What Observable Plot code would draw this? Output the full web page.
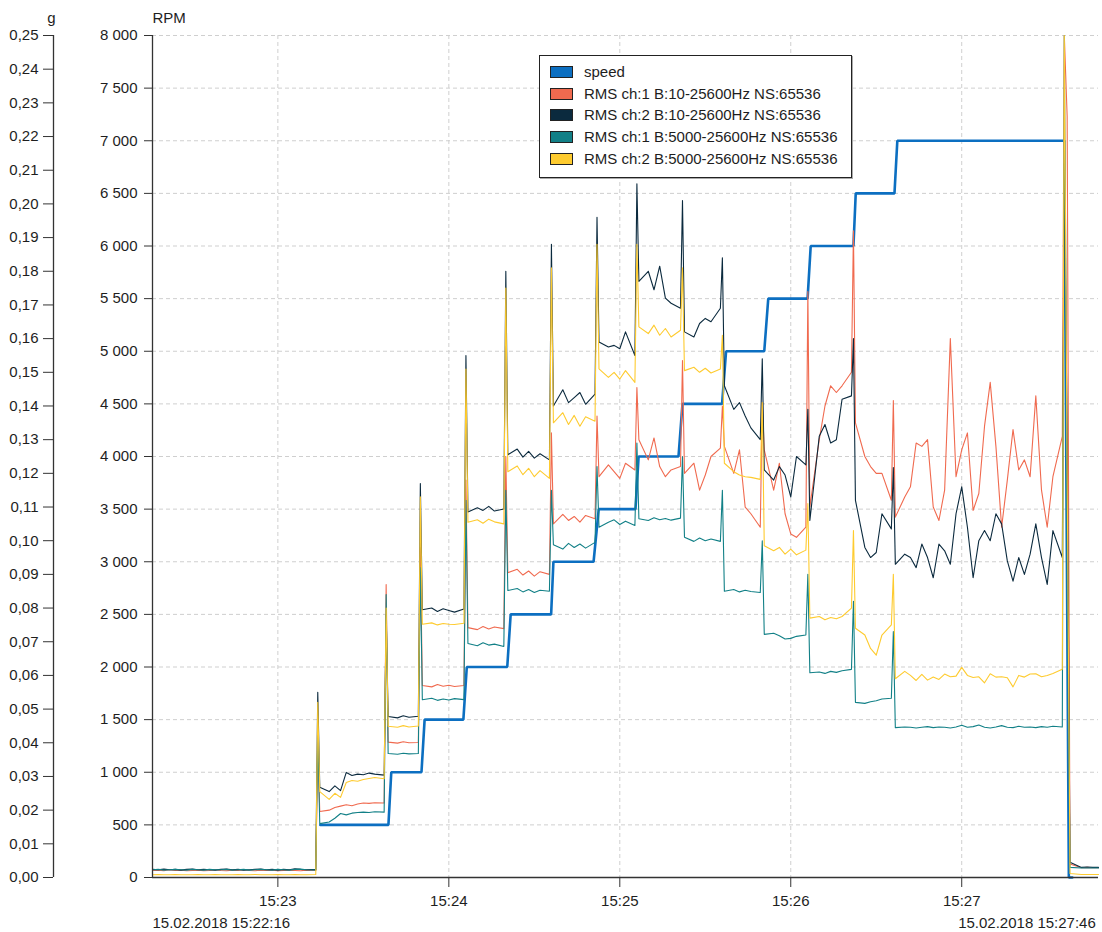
<!DOCTYPE html>
<html><head><meta charset="utf-8">
<script src="https://cdn.jsdelivr.net/npm/d3@7"></script>
<script src="https://cdn.jsdelivr.net/npm/@observablehq/plot@0.6"></script>
<style>
html,body{margin:0;padding:0;background:#fff;}
#wrap{position:relative;width:1102px;height:932px;font-family:"Liberation Sans",Arial,sans-serif;color:#1e1e1e;}
#legend{position:absolute;left:539px;top:55px;width:313px;height:123px;box-sizing:border-box;border:1px solid #222;background:#fff;box-shadow:1px 1px 0 #aaa;}
.sw{position:absolute;left:10px;width:23px;height:12px;box-sizing:border-box;border:1.5px solid #222;}
.lb{position:absolute;left:44px;white-space:nowrap;font-size:15px;line-height:15px;}
</style></head><body><div id="wrap"></div>
<script>
// ---- labels & colors ----
const seriesNames = ["speed","RMS ch:1 B:10-25600Hz NS:65536","RMS ch:2 B:10-25600Hz NS:65536","RMS ch:1 B:5000-25600Hz NS:65536","RMS ch:2 B:5000-25600Hz NS:65536"];
const seriesColors = ["#0c6fc1","#f06a4f","#0b2a3e","#128087","#fecb2f"];
const startLabel = "15.02.2018 15:22:16";
const endLabel = "15.02.2018 15:27:46";
const minuteTicks = ["15:23","15:24","15:25","15:26","15:27"];
const rpmTicks = [0,500,1000,1500,2000,2500,3000,3500,4000,4500,5000,5500,6000,6500,7000,7500,8000];
const gTicks = [0,0.01,0.02,0.03,0.04,0.05,0.06,0.07,0.08,0.09,0.10,0.11,0.12,0.13,0.14,0.15,0.16,0.17,0.18,0.19,0.20,0.21,0.22,0.23,0.24,0.25];

// ---- speed (RPM), seconds after 15:22:16 ----
const speedSec = [58.9,82.8,83.8,94.4,95.5,109.1,110.3,124.5,125.7,139.9,140.7,154.8,156.6,169.5,170.6,184.6,186.0,199.9,201.3,214.7,216.1,229.9,231.0,246.0,246.8,260.4,261.4,320.0,321.6,322.8];
const speedRpm = [500,500,1000,1000,1500,1500,2000,2000,2500,2500,3000,3000,3500,3500,4000,4000,4500,4500,5000,5000,5500,5500,6000,6000,6500,6500,7000,7000,0,0];

// ---- RMS values (g); sample times in seconds after 15:22:16 ----
const rmsSec = [
0,2,4,6,8,10,12,14,16,18,20,22,24,26,28,30,32,34,36,38,40,42,44,46,48,50,52,54,57.3,
58,
58.7,62,64,66,68,70,72,74,76,78,81.3,
82,
82.7,86,88,90,93.3,
94,
94.7,98,100,102,104,106,109.3,
110,
110.7,114,116,118,120,123.3,
124,
124.7,128,130,132,134,136,139.3,
140,
140.7,144,146,148,150,152,155.3,
156,
156.7,160,162,164,166,169.3,
170,
170.7,174,176,178,180,182,185.3,
186,
186.7,190,192,194,196,199.3,
200,
200.7,204,206,208,210,213.3,
214,
214.7,218,220,222,224,226,229.3,
230,
230.7,234,236,238,240,242,245.3,
246,
246.7,250,252,254,256,259.3,
260,
260.7,264,266,268,270,272,274,276,278,280,282,284,286,288,290,292,294,296,298,300,302,304,306,308,310,312,314,316,319.3,
320,321,322,
326,328,330,332];
const ch1Broad = [
0.0021,0.0022,0.0020,0.0023,0.0021,0.0022,0.0020,0.0021,0.0022,0.0020,0.0021,0.0023,0.0021,0.0020,0.0022,0.0021,0.0023,0.0021,0.0020,0.0022,0.0021,0.0022,0.0020,0.0021,0.0022,0.0021,0.0020,0.0022,0.0021,
0.040,
0.0196,0.0200,0.0208,0.0212,0.0216,0.0213,0.0218,0.0221,0.0220,0.0222,0.0221,
0.087,
0.0402,0.0399,0.0403,0.0400,0.0401,
0.098,
0.0570,0.0566,0.0573,0.0568,0.0571,0.0567,0.0570,
0.118,
0.0742,0.0736,0.0745,0.0738,0.0744,0.0739,
0.125,
0.0905,0.0915,0.0898,0.0910,0.0895,0.0908,0.0900,
0.132,
0.1050,0.1078,0.1060,0.1072,0.1055,0.1075,0.1065,
0.137,
0.1190,0.1225,0.1205,0.1185,0.1230,0.1210,
0.1455,
0.1300,0.1240,0.1305,0.1220,0.1190,0.1210,0.1220,
0.1535,
0.1200,0.1230,0.1150,0.1195,0.1250,0.1275,
0.140,
0.1280,0.1200,0.1270,0.1100,0.1080,0.1040,
0.141,
0.1270,0.1150,0.1230,0.1080,0.1020,0.1010,0.1040,
0.174,
0.1100,0.1300,0.1400,0.1460,0.1440,0.1460,0.1500,
0.192,
0.1350,0.1250,0.1220,0.1200,0.1200,0.1120,
0.1416,
0.107,0.113,0.116,0.129,0.128,0.130,0.110,0.106,0.115,0.160,0.119,0.127,0.132,0.109,0.114,0.134,0.147,0.128,0.104,0.118,0.133,0.121,0.124,0.119,0.143,0.115,0.104,0.119,0.131,
0.250,0.226,0.0040,
0.0029,0.0030,0.0029,0.0029];
const ch2Broad = [
0.0024,0.0023,0.0025,0.0023,0.0024,0.0022,0.0024,0.0025,0.0023,0.0024,0.0023,0.0022,0.0024,0.0025,0.0023,0.0024,0.0022,0.0023,0.0024,0.0025,0.0023,0.0024,0.0022,0.0024,0.0023,0.0026,0.0024,0.0023,0.0024,
0.055,
0.0268,0.0255,0.0272,0.0258,0.0312,0.0303,0.0307,0.0305,0.0310,0.0307,0.0304,
0.078,
0.0478,0.0474,0.0480,0.0476,0.0479,
0.117,
0.0795,0.0800,0.0790,0.0798,0.0793,0.0788,0.0797,
0.155,
0.1085,0.1098,0.1090,0.1102,0.1088,0.1094,
0.180,
0.1255,0.1272,0.1248,0.1265,0.1245,0.1258,0.1240,
0.188,
0.1400,0.1448,0.1410,0.1425,0.1440,0.1405,0.1435,
0.196,
0.1590,0.1575,0.1580,0.1570,0.1620,0.1550,
0.206,
0.1770,0.1800,0.1745,0.1815,0.1720,0.1705,0.1690,
0.201,
0.1620,0.1605,0.1645,0.1660,0.1650,0.1690,
0.184,
0.1460,0.1390,0.1410,0.1370,0.1335,0.1300,
0.154,
0.1210,0.1180,0.1220,0.1195,0.1130,0.1250,0.1225,
0.139,
0.1060,0.1310,0.1345,0.1290,0.1300,0.1420,0.1430,
0.160,
0.1120,0.0980,0.0950,0.0965,0.1080,0.1035,
0.1217,
0.093,0.096,0.095,0.092,0.099,0.095,0.089,0.099,0.097,0.093,0.108,0.116,0.104,0.089,0.100,0.103,0.100,0.108,0.105,0.094,0.088,0.095,0.090,0.096,0.105,0.095,0.087,0.103,0.095,
0.212,0.130,0.0045,
0.0030,0.0031,0.0030,0.0030];
const ch1High = [
0.0023,0.0024,0.0022,0.0023,0.0024,0.0023,0.0022,0.0024,0.0023,0.0022,0.0024,0.0023,0.0023,0.0024,0.0022,0.0023,0.0024,0.0022,0.0023,0.0024,0.0023,0.0022,0.0024,0.0023,0.0022,0.0024,0.0025,0.0023,0.0022,
0.042,
0.0160,0.0165,0.0176,0.0190,0.0186,0.0191,0.0193,0.0194,0.0193,0.0195,0.0194,
0.084,
0.0368,0.0366,0.0369,0.0367,0.0368,
0.092,
0.0528,0.0532,0.0526,0.0530,0.0527,0.0531,0.0528,
0.112,
0.0695,0.0688,0.0697,0.0690,0.0693,0.0686,
0.115,
0.0852,0.0858,0.0848,0.0855,0.0846,0.0853,0.0850,
0.115,
0.0988,0.0975,0.0992,0.0980,0.0990,0.0978,0.0995,
0.122,
0.1040,0.1055,0.1062,0.1048,0.1058,0.1045,
0.129,
0.1065,0.1060,0.1068,0.1062,0.1066,0.1061,0.1067,
0.125,
0.1010,0.0998,0.1008,0.1000,0.1005,0.0998,
0.115,
0.0850,0.0855,0.0848,0.0853,0.0849,0.0846,
0.100,
0.0722,0.0725,0.0718,0.0708,0.0710,0.0716,0.0720,
0.090,
0.0608,0.0610,0.0606,0.0612,0.0609,0.0614,0.0618,
0.082,
0.0520,0.0517,0.0522,0.0525,0.0530,0.0532,
0.073,
0.0445,0.0447,0.0446,0.0444,0.0446,0.0448,0.0445,0.0447,0.0446,0.0444,0.0447,0.0452,0.0446,0.0448,0.0453,0.0446,0.0444,0.0447,0.0451,0.0446,0.0445,0.0449,0.0446,0.0447,0.0445,0.0448,0.0446,0.0449,0.0447,
0.250,0.090,0.0030,
0.0028,0.0028,0.0028,0.0028];
const ch2High = [
0.0008,0.0009,0.0008,0.0008,0.0009,0.0008,0.0008,0.0008,0.0009,0.0008,0.0008,0.0009,0.0008,0.0008,0.0008,0.0009,0.0008,0.0008,0.0009,0.0008,0.0008,0.0008,0.0009,0.0008,0.0008,0.0009,0.0008,0.0008,0.0009,
0.052,
0.0255,0.0232,0.0250,0.0238,0.0282,0.0288,0.0286,0.0291,0.0294,0.0297,0.0293,
0.080,
0.0449,0.0446,0.0451,0.0447,0.0450,
0.113,
0.0752,0.0756,0.0750,0.0754,0.0752,0.0751,0.0755,
0.151,
0.1055,0.1062,0.1052,0.1064,0.1056,0.1050,
0.175,
0.1205,0.1222,0.1196,0.1215,0.1190,0.1208,0.1185,
0.181,
0.1350,0.1380,0.1345,0.1372,0.1340,0.1368,0.1355,
0.188,
0.1510,0.1485,0.1500,0.1480,0.1505,0.1470,
0.188,
0.1635,0.1615,0.1640,0.1610,0.1630,0.1605,0.1625,
0.181,
0.1505,0.1515,0.1500,0.1512,0.1498,0.1510,
0.161,
0.1230,0.1205,0.1195,0.1190,0.1188,0.1182,
0.141,
0.0985,0.0970,0.0980,0.0960,0.0975,0.0958,0.0972,
0.111,
0.0770,0.0775,0.0765,0.0772,0.0768,0.0775,0.0800,
0.103,
0.0740,0.0720,0.0680,0.0660,0.0720,0.0750,
0.090,
0.0590,0.0612,0.0600,0.0585,0.0603,0.0586,0.0595,0.0588,0.0604,0.0596,0.0598,0.0624,0.0600,0.0594,0.0596,0.0578,0.0605,0.0595,0.0596,0.0593,0.0566,0.0600,0.0595,0.0604,0.0605,0.0596,0.0600,0.0606,0.0618,
0.250,0.120,0.0012,
0.0009,0.0009,0.0009,0.0009];

// ---- build ----
const t0 = Date.UTC(2018,1,15,15,22,16);
const T = s => new Date(t0 + s*1000);
const G2RPM = 8000/0.25;  // shared vertical scale: 0.25 g <-> 8000 RPM
const minuteDates = minuteTicks.map(s => { const [h,m] = s.split(":").map(Number); return new Date(Date.UTC(2018,1,15,h,m,0)); });
const loc = d3.formatLocale({decimal:",", thousands:"\u00a0", grouping:[3], currency:["",""]});
const rpmFmt = loc.format(",d");
const gFmt = v => (v/G2RPM).toFixed(2).replace(".", ",");

const speedData = speedSec.map((s,i) => ({t:T(s), v:speedRpm[i]}));
const rmsSeries = [ch1Broad, ch2Broad, ch1High, ch2High];
const rmsData = rmsSeries.map(arr => rmsSec.map((s,i) => ({t:T(s), v:arr[i]*G2RPM})));

const axisColor = "#333";
const gOffset = -99;

const chart = Plot.plot({
  width: 1102, height: 932,
  marginLeft: 152, marginRight: 4, marginTop: 35, marginBottom: 55,
  style: {fontFamily: '"Liberation Sans", Arial, sans-serif', fontSize: "15px", background: "#fff", color: "#1e1e1e"},
  x: {type: "utc", domain: [T(0), T(332)]},
  y: {domain: [0, 8000]},
  marks: [
    Plot.gridY(rpmTicks.filter(d => d > 0), {stroke: "#cfcfcf", strokeOpacity: 1, strokeDasharray: "4,3"}),
    Plot.gridX(minuteDates, {stroke: "#cfcfcf", strokeOpacity: 1, strokeDasharray: "4,3"}),
    Plot.line(speedData, {x: "t", y: "v", stroke: seriesColors[0], strokeWidth: 2.6, strokeLinejoin: "miter"}),
    ...rmsData.map((d, k) => Plot.line(d, {x: "t", y: "v", stroke: seriesColors[k+1], strokeWidth: 1.1})),
    Plot.ruleX([T(0)], {y1: 0, y2: 8000, stroke: axisColor, strokeWidth: 1.3}),
    Plot.ruleY([0], {stroke: axisColor, strokeWidth: 1.3}),
    Plot.ruleX([T(0)], {y1: 0, y2: 8000, dx: gOffset, stroke: axisColor, strokeWidth: 1.3}),
    Plot.axisY(rpmTicks, {anchor: "left", tickSize: 8, tickPadding: 7, tickFormat: rpmFmt, fontSize: 15, stroke: axisColor, label: null}),
    Plot.axisY(gTicks.map(g => g*G2RPM), {anchor: "left", dx: gOffset, tickSize: 10, tickPadding: 5, tickFormat: gFmt, fontSize: 15, stroke: axisColor, label: null}),
    Plot.axisX(minuteDates, {anchor: "bottom", tickSize: 10, tickPadding: 8, tickFormat: d3.utcFormat("%H:%M"), fontSize: 15, stroke: axisColor, label: null}),
    Plot.text([T(0)], {x: d => d, frameAnchor: "bottom", dy: 40, lineAnchor: "top", textAnchor: "start", text: () => startLabel, fontSize: 15}),
    Plot.text([T(330)], {x: d => d, frameAnchor: "bottom", dy: 40, dx: 3, lineAnchor: "top", textAnchor: "end", text: () => endLabel, fontSize: 15}),
    Plot.text(["RPM"], {frameAnchor: "top-left", dy: -23, lineAnchor: "top", textAnchor: "start", text: d => d, fontSize: 15}),
    Plot.text(["g"], {frameAnchor: "top-left", dx: -101, dy: -23, lineAnchor: "top", textAnchor: "middle", text: d => d, fontSize: 15})
  ]
});

const wrap = document.getElementById("wrap");
wrap.appendChild(chart);
const legend = document.createElement("div");
legend.id = "legend";
seriesNames.forEach((name, i) => {
  const top = 10 + 21.7*i;
  const sw = document.createElement("div");
  sw.className = "sw"; sw.style.top = top + "px"; sw.style.background = seriesColors[i];
  const lb = document.createElement("div");
  lb.className = "lb"; lb.style.top = (top - 2) + "px"; lb.textContent = name;
  legend.appendChild(sw); legend.appendChild(lb);
});
wrap.appendChild(legend);
</script></body></html>
